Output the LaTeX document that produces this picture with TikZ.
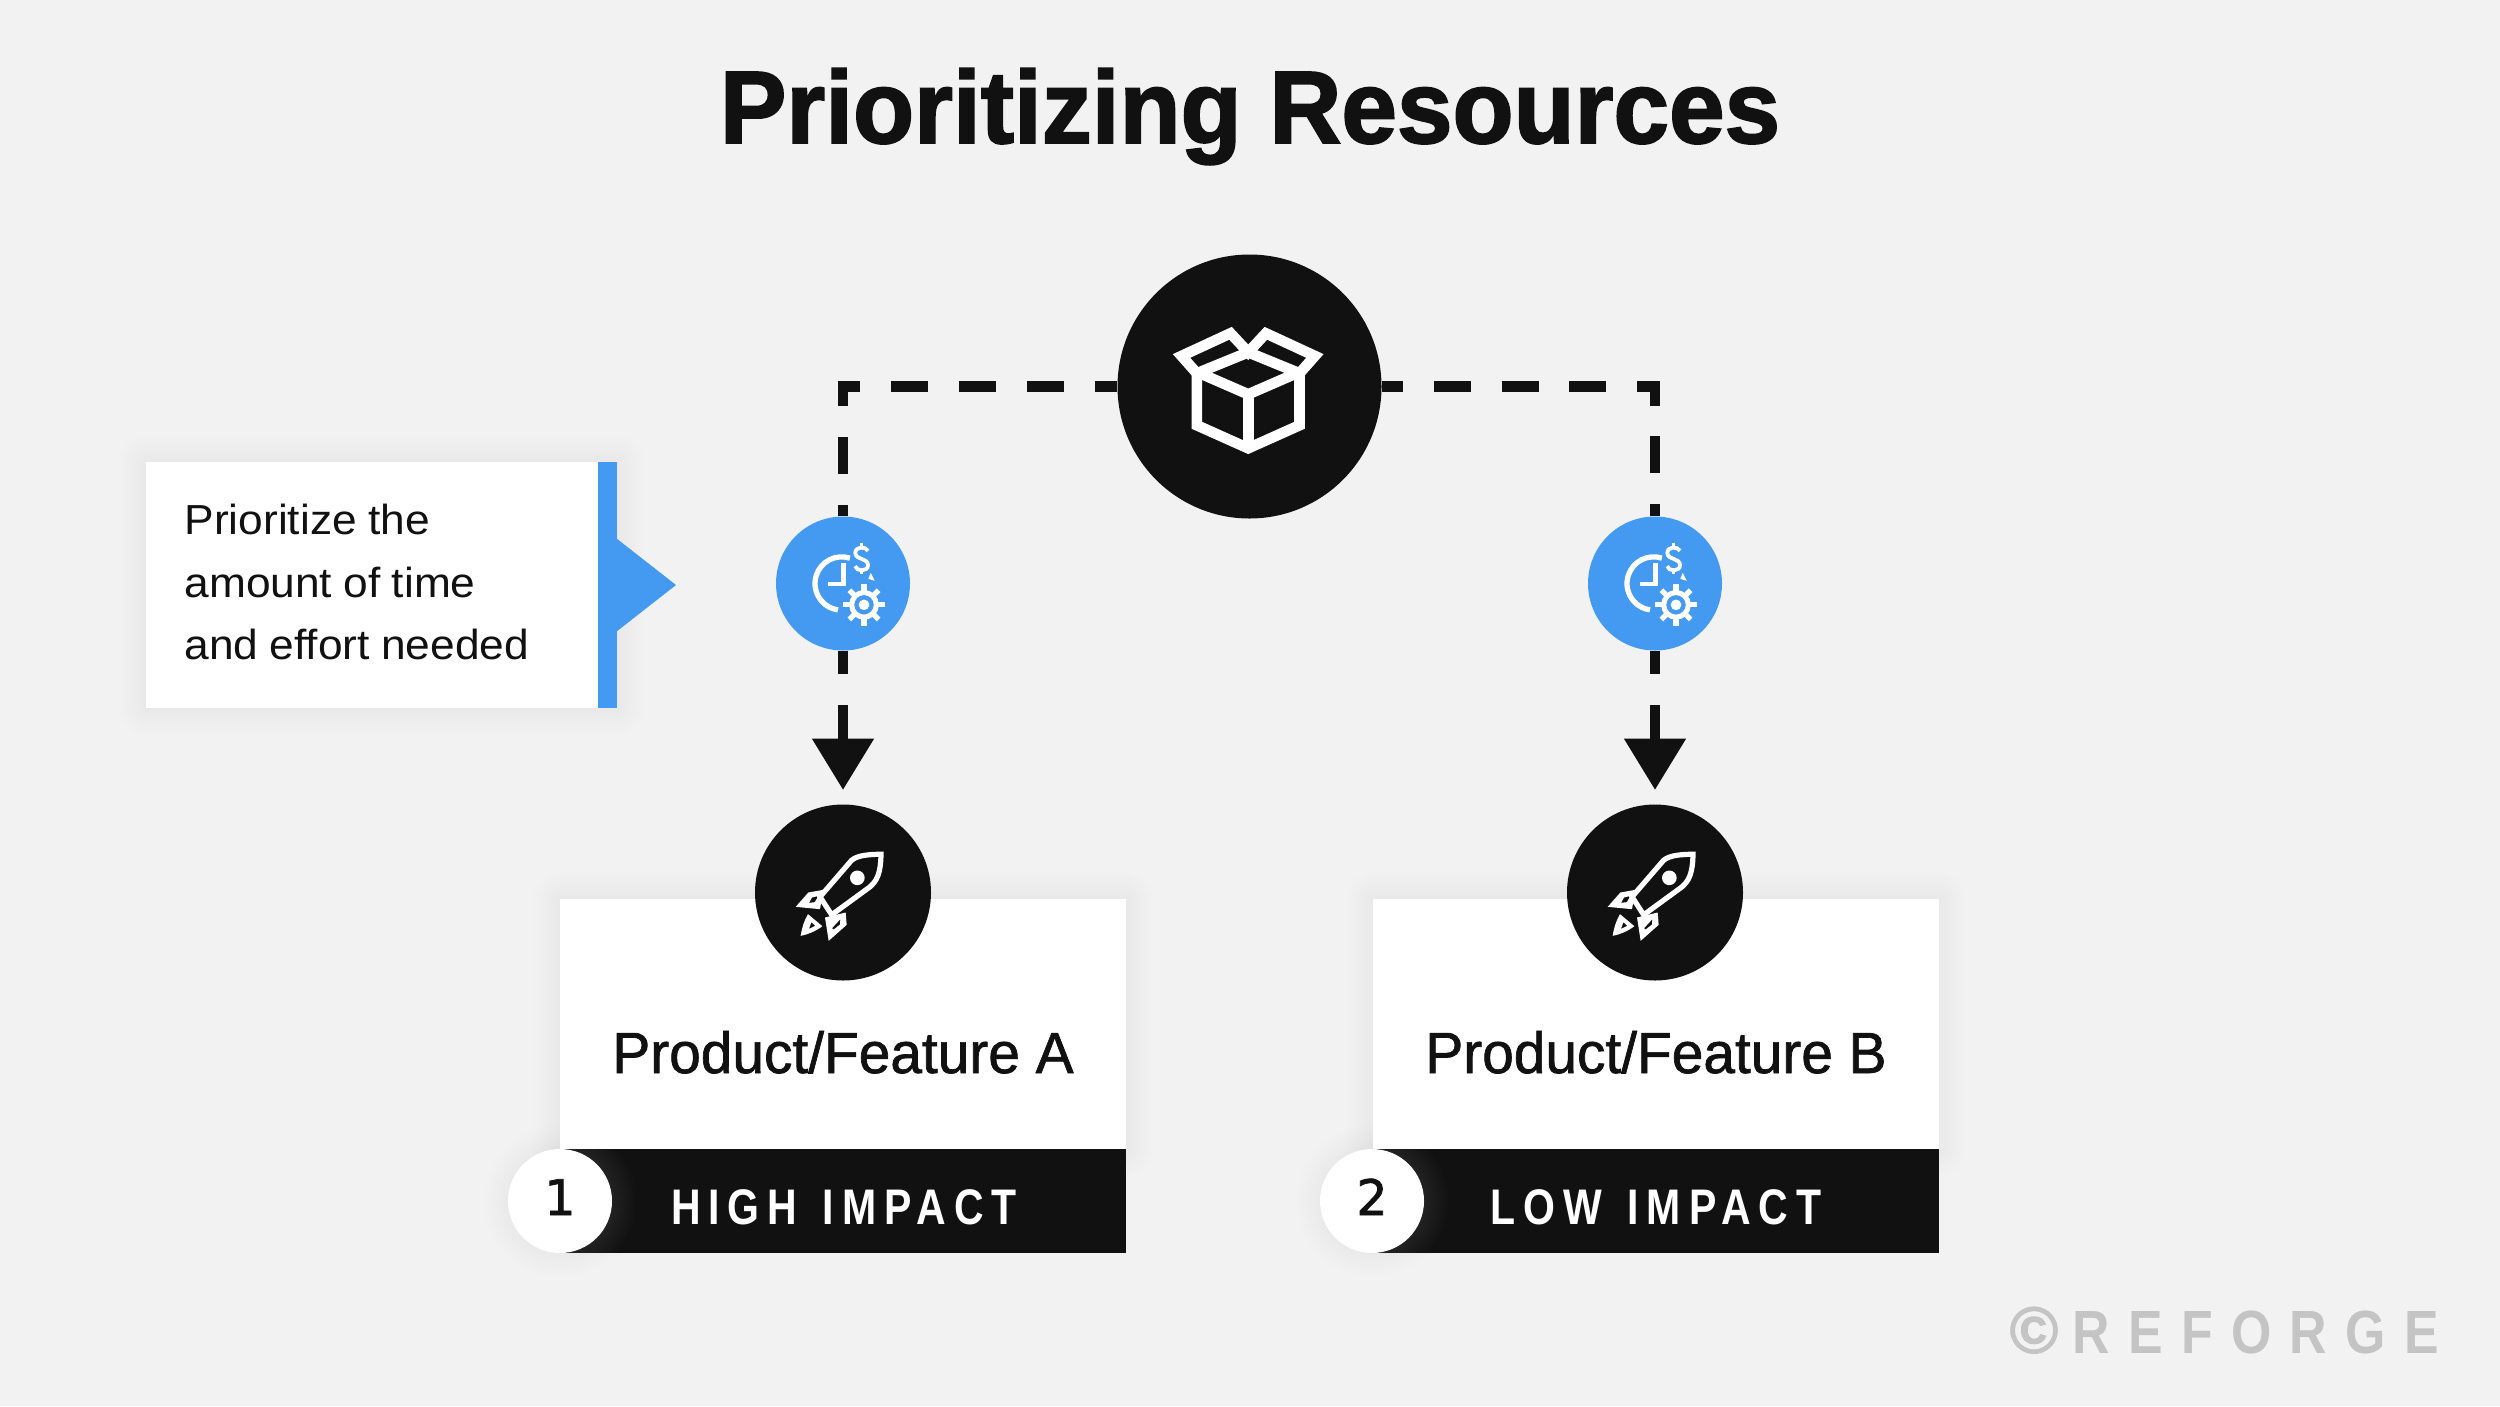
\documentclass[tikz,border=0pt]{standalone}
\usepackage{fontspec}
\usetikzlibrary{arrows.meta,calc}
\setmainfont{Liberation Sans}
\newfontfamily\titlefont[FakeStretch=.97,FakeBold=1.8]{Liberation Sans}
\newfontfamily\labelfont[FakeStretch=.98,FakeBold=1.2]{Liberation Sans}
\newfontfamily\bodyfont[FakeStretch=1.055]{Liberation Sans}
\newfontfamily\bandfont[FakeStretch=.82,LetterSpace=16]{Liberation Sans}
\newfontfamily\digitfont[FakeBold=1.5]{DejaVu Sans}
\newfontfamily\markfont[FakeStretch=.85,LetterSpace=30]{Liberation Sans}
\newfontfamily\copyfont[FakeBold=1.5]{Liberation Sans}
\definecolor{ink}{HTML}{111111}
\definecolor{sky}{HTML}{4499F1}
\definecolor{paper}{HTML}{F2F2F2}
\definecolor{markgray}{HTML}{C4C4C4}
\newcommand{\softbox}[4]{%
  \foreach \s in {3,6,...,27}{\fill[black,opacity=.0035,rounded corners=\s pt] (#1-\s,#2-\s) rectangle (#3+\s,#4+\s);}}
\newcommand{\softdisc}[3]{%
  \foreach \s in {3,6,...,24}{\fill[black,opacity=.004] (#1,#2) circle[radius=#3+\s];}}
\tikzset{
  blackdisc/.style={circle,fill=ink,inner sep=0pt,minimum size=#1},
  bluedisc/.style={circle,fill=sky,inner sep=0pt,minimum size=134pt},
  whitepanel/.style={rectangle,fill=white,inner sep=0pt,minimum width=566pt,minimum height=250pt},
  blackband/.style={rectangle,fill=ink,text=white,inner sep=0pt,minimum width=566pt,minimum height=104pt},
  numdisc/.style={circle,fill=white,text=ink,inner sep=0pt,minimum size=104pt},
  dashline/.style={draw=ink,line width=10.6pt,dash pattern=on 37pt off 30.8pt,dash phase=#1,line join=miter},
  icon/.style={draw=white,line join=miter,fill=none},
  pics/clockgear/.style={code={
    \begin{scope}[x=.3333pt,y=-.3333pt,shift={(-309,-250)}]
      \draw[icon,line width=5.3pt] (305,250) ++(-72:80) arc[start angle=-72,end angle=-262,radius=80];
      \draw[icon,line width=4.6pt] (310,189) -- (310,252) -- (264,252);
      \draw[icon,line width=3.8pt] (384,152) .. controls (378,138) and (346,138) .. (346,158) .. controls (346,180) and (384,172) .. (384,195) .. controls (384,215) and (350,215) .. (345,198);
      \draw[icon,line width=3.4pt] (365,127) -- (365,142) (365,208) -- (365,222);
      \fill[white] (392,218) -- (404,242) -- (385,236) -- cycle;
      \draw[icon,line width=5pt] (372,314) circle[radius=37];
      \fill[white] (372,314) circle[radius=16];
      \foreach \a in {0,45,...,315}{\draw[icon,line width=5.2pt] (372,314) ++(\a:40) -- ++(\a:22);}
    \end{scope}}},
  pics/rocketship/.style={code={
    \begin{scope}[x=.3333pt,y=-.3333pt,shift={(-339,-335)}]
      \fill[white,even odd rule] (197,378) -- (235,335) -- (280,327) -- (270,385) -- cycle (237,366) -- (246,350) -- (266,345) -- (254,364) -- cycle;
      \fill[white,even odd rule] (296,480) -- (285,410) -- (347,395) -- (350,432) -- cycle (306,442) -- (331,415) -- (330,431) -- (311,446) -- cycle;
      \fill[white,even odd rule] (212,465) .. controls (216,440) and (222,420) .. (234,400) -- (277,436) .. controls (256,452) and (236,460) .. cycle (244,424) -- (237,444) -- (256,435) -- cycle;
      \draw[icon,line width=5.2pt,fill=ink] (453,220) .. controls (420,221) and (385,222) .. (365,238) -- (270,348) -- (305,402) -- (420,318) .. controls (440,300) and (452,280) .. cycle;
      \fill[white] (382,291) circle[radius=22];
    \end{scope}}}
}
\begin{document}
\begin{tikzpicture}[x=1pt,y=-1pt]
\useasboundingbox (0,0) rectangle (2500,1406);
\fill[paper] (0,0) rectangle (2500,1406);

% soft shadows
\softbox{146}{462}{617}{708}
\softbox{560}{899}{1126}{1149}
\softbox{1373}{899}{1939}{1149}
\softdisc{560}{1201}{52}
\softdisc{1372}{1201}{52}

% title
\node[anchor=base,text=ink,inner sep=0pt] (title) at (1250,143) {\titlefont\bfseries\fontsize{103}{113}\selectfont Prioritizing Resources};

% callout
\node[rectangle,fill=white,inner sep=0pt,minimum width=452pt,minimum height=246pt] (callout) at (372,585) {};
\node[inner sep=0pt,text width=374pt,align=left,text=ink,font=\bodyfont\fontsize{42}{62.5}\selectfont] (callouttext) at (371.5,582) {\spaceskip=.27em Prioritize the\\amount of time\\and effort needed};
\node[rectangle,fill=sky,inner sep=0pt,minimum width=19pt,minimum height=246pt] (calloutbar) at (607.5,585) {};
\fill[sky] (calloutbar.east |- 0,539) -- (676,585) -- (calloutbar.east |- 0,631) -- cycle;

% panels
\node[whitepanel] (panelA) at (843,1024) {};
\node[whitepanel] (panelB) at (1656,1024) {};
\node[blackband] (bandA) at (843,1201) {};
\node[blackband] (bandB) at (1656,1201) {};

% central nodes
\node[blackdisc=264pt] (store) at (1249.5,386.5) {};
\node[bluedisc] (costA) at (843,583.5) {};
\node[bluedisc] (costB) at (1655,583.5) {};
\node[blackdisc=176pt] (rocketA) at (843,892.5) {};
\node[blackdisc=176pt] (rocketB) at (1655,892.5) {};

\begin{scope}
  \clip (bandA.north west) rectangle (bandA.south east);
  \foreach \s in {3,6,...,24}{\fill[white,opacity=.012] (560,1201) circle[radius=52+\s];}
\end{scope}
\begin{scope}
  \clip (bandB.north west) rectangle (bandB.south east);
  \foreach \s in {3,6,...,24}{\fill[white,opacity=.012] (1372,1201) circle[radius=52+\s];}
\end{scope}
\node[numdisc] (numA) at (560,1201) {};
\node[numdisc] (numB) at (1372,1201) {};
\node[anchor=base,text=ink,inner sep=0pt] (numAt) at (560,1215) {\digitfont\fontsize{49}{55}\selectfont 1};
\node[anchor=base,text=ink,inner sep=0pt] (numBt) at (1372,1215) {\digitfont\fontsize{49}{55}\selectfont 2};
\node[anchor=base,text=white,inner sep=0pt] (impactA) at (844,1224) {\bandfont\bfseries\fontsize{50}{55}\selectfont HIGH \hspace{6pt}IMPACT};
\node[anchor=base,text=white,inner sep=0pt] (impactB) at (1656,1224) {\bandfont\bfseries\fontsize{50}{55}\selectfont LOW \hspace{6pt}IMPACT};
\node[anchor=base,text=ink,inner sep=0pt] (nameA) at (843,1073) {\labelfont\fontsize{58}{64}\selectfont Product/Feature A};
\node[anchor=base,text=ink,inner sep=0pt] (nameB) at (1656,1073) {\labelfont\fontsize{58}{64}\selectfont Product/Feature B};

% connectors
\draw[dashline=14.2pt] (store.west) -| (costA.north);
\draw[dashline=15.8pt] (store.east) -| (costB.north);
\draw[dashline=13.3pt,-{Triangle[length=51.5pt,width=59.4pt]},shorten >=14.3pt] (costA.south) -- (rocketA.north);
\draw[dashline=13.3pt,-{Triangle[length=51.5pt,width=59.4pt]},shorten >=14.3pt] (costB.south) -- (rocketB.north);

% icons
\pic at (costA) {clockgear};
\pic at (costB) {clockgear};
\pic at (rocketA) {rocketship};
\pic at (rocketB) {rocketship};
\begin{scope}[x=.3333pt,y=-.3333pt,shift={(3180,690)}]
  \draw[icon,line width=10.6pt] (411,430) -- (411,586) -- (565,655) -- (719,586) -- (719,430) -- (565,367) -- cycle;
  \draw[icon,line width=10.6pt] (411,426) -- (565,493) -- (719,426);
  \draw[icon,line width=10.6pt] (565,493) -- (565,655);
  \draw[icon,line width=10.6pt] (411,430) -- (365,378) -- (512,310) -- (565,367) -- (618,310) -- (765,378) -- (719,430);
\end{scope}

% watermark
\node[anchor=base,text=markgray,inner sep=0pt] (copymark) at (2034,1353) {\copyfont\bfseries\fontsize{66}{72}\selectfont ©};
\node[anchor=base east,text=markgray,inner sep=0pt] (mark) at (2439,1353) {\markfont\bfseries\fontsize{61}{67}\selectfont REFORGE};
\end{tikzpicture}
\end{document}
